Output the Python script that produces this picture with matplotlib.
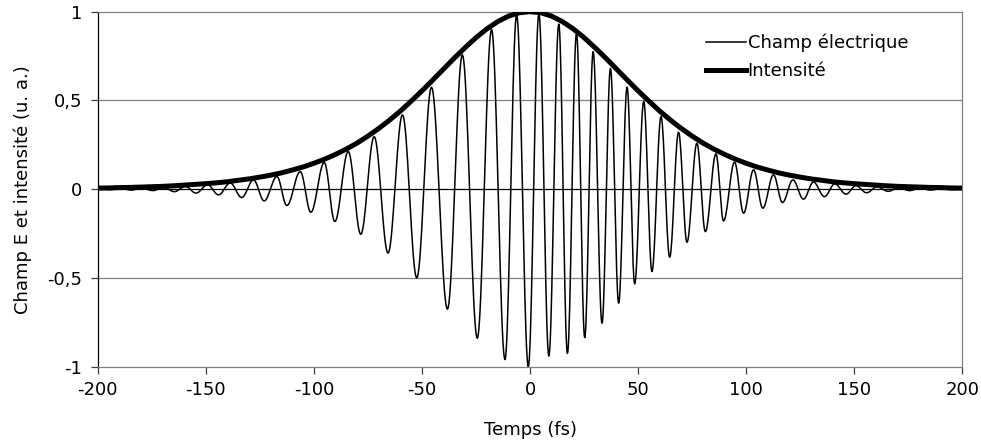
import numpy as np
import matplotlib.pyplot as plt
from matplotlib.ticker import FixedLocator, FixedFormatter

plt.rcParams['font.family'] = 'DejaVu Sans'
plt.rcParams['axes.unicode_minus'] = False

# intensity envelope, every 5 fs
t_env = np.arange(-200, 201, 5)
i_half = [1.0, 0.994, 0.975, 0.944, 0.903, 0.854, 0.798, 0.739, 0.677, 0.615,
          0.554, 0.496, 0.440, 0.389, 0.342, 0.299, 0.260, 0.226, 0.196, 0.169,
          0.146, 0.125, 0.108, 0.092, 0.079, 0.068, 0.058, 0.050, 0.042, 0.036,
          0.031, 0.027, 0.023, 0.019, 0.016, 0.014, 0.012, 0.010, 0.009, 0.007,
          0.006]
intensity = i_half[::-1] + i_half[1:]

# electric field: times and values of successive maxima / minima
t_ext = [-199.5, -194.5, -189.5, -184.5, -179.5, -174.5, -169.5, -164.5, -159.5, -154.5,
         -149.2, -144.1, -138.7, -133.4, -127.9, -123.0, -117.1, -112.5, -106.3, -101.4,
         -95.2, -90.3, -84.1, -78.3, -72.1, -65.7, -59.0, -52.4, -45.6, -38.2,
         -31.3, -24.4, -17.8, -11.6, -6.2, -0.8, 4.1, 8.7, 13.3, 17.3,
         21.5, 25.3, 29.2, 33.3, 37.2, 41.0, 44.9, 48.4, 52.6, 56.4,
         60.6, 64.6, 68.7, 72.6, 77.2, 81.1, 86.0, 89.5, 94.6, 98.8,
         103.4, 107.7, 112.6, 116.8, 121.6, 126.5, 131.1, 136.2, 141.0, 146.2,
         150.7, 155.7, 160.5, 165.7, 170.5, 175.5, 180.3, 185.3, 190.0, 195.0,
         200.0]
e_ext = [0.002, -0.003, 0.004, -0.005, 0.006, -0.008, 0.010, -0.014, 0.016, -0.022,
         0.025, -0.032, 0.035, -0.047, 0.052, -0.066, 0.071, -0.092, 0.099, -0.130,
         0.150, -0.182, 0.212, -0.254, 0.296, -0.360, 0.419, -0.500, 0.575, -0.676,
         0.757, -0.840, 0.900, -0.960, 0.982, -1.000, 0.988, -0.940, 0.930, -0.925,
         0.879, -0.836, 0.775, -0.755, 0.680, -0.642, 0.575, -0.533, 0.494, -0.464,
         0.409, -0.383, 0.321, -0.299, 0.259, -0.239, 0.199, -0.179, 0.152, -0.135,
         0.109, -0.107, 0.081, -0.075, 0.052, -0.056, 0.040, -0.042, 0.030, -0.028,
         0.020, -0.020, 0.013, -0.012, 0.009, -0.008, 0.005, -0.005, 0.003, -0.003,
         0.002]

y_ticks = [-1, -0.5, 0, 0.5, 1]
y_labels = ['-1', '-0,5', '0', '0,5', '1']
x_ticks = [-200, -150, -100, -50, 0, 50, 100, 150, 200]


def wave(tx, ex, n=20):
    # half-cosine arc between each pair of successive extrema
    tt, ee = [], []
    for k in range(len(tx) - 1):
        s = np.linspace(0, 1, n, endpoint=False)
        tt.append(tx[k] + (tx[k + 1] - tx[k]) * s)
        ee.append((ex[k] + ex[k + 1]) / 2 + (ex[k] - ex[k + 1]) / 2 * np.cos(np.pi * s))
    tt.append([tx[-1]])
    ee.append([ex[-1]])
    return np.concatenate(tt), np.concatenate(ee)


t_field, e_field = wave(t_ext, e_ext)

fig = plt.figure(figsize=(9.81, 4.41), dpi=100)
ax = fig.add_axes([0.0996, 0.1685, 0.8814, 0.805])

for y in [-0.5, 0.5]:
    ax.axhline(y, color='#808080', lw=0.9, zorder=1)
ax.axhline(0, color='black', lw=0.9, zorder=1)

ax.plot(t_field, e_field, color='black', lw=1.1, label='Champ électrique', zorder=3)
ax.plot(t_env, intensity, color='black', lw=3.6, label='Intensité', zorder=4)

ax.set_xlim(-200, 200)
ax.set_ylim(-1, 1)
ax.xaxis.set_major_locator(FixedLocator(x_ticks))
ax.yaxis.set_major_locator(FixedLocator(y_ticks))
ax.yaxis.set_major_formatter(FixedFormatter(y_labels))
ax.tick_params(labelsize=13, length=5, width=0.9, color='#404040')
ax.tick_params(axis='x', pad=5)
ax.tick_params(axis='y', pad=6)

for side in ['top', 'right', 'bottom']:
    ax.spines[side].set_color('#808080')
    ax.spines[side].set_linewidth(0.9)
ax.spines['left'].set_color('black')
ax.spines['left'].set_linewidth(0.9)

ax.set_xlabel('Temps (fs)', fontsize=13, labelpad=16)
ax.set_ylabel('Champ E et intensité (u. a.)', fontsize=13, labelpad=11)

ax.legend(loc='upper left', bbox_to_anchor=(0.7035, 0.938), frameon=False,
          fontsize=13, handlelength=2.2, handletextpad=0.1, labelspacing=0.57,
          borderpad=0, borderaxespad=0)

fig.savefig('out.png', dpi=100)
